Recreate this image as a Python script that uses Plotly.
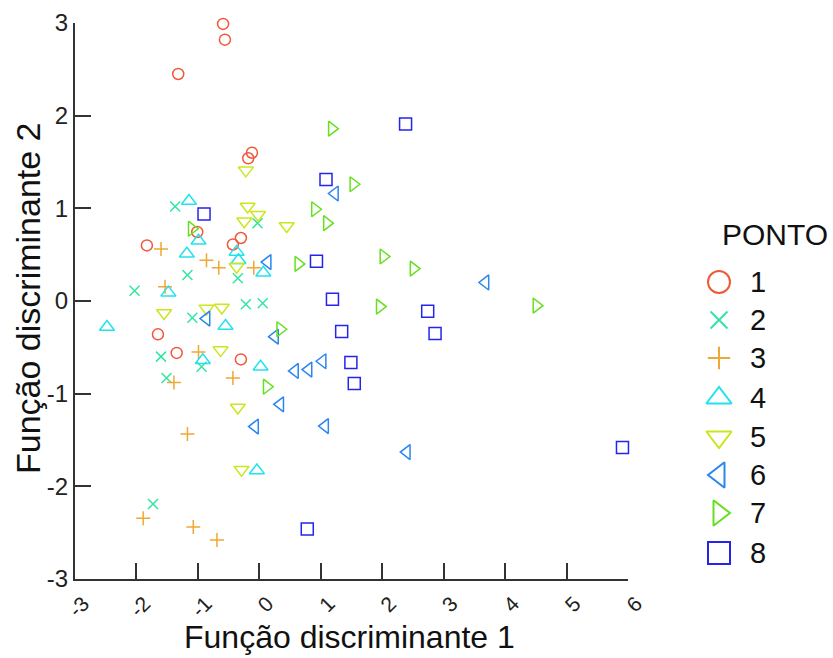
import plotly.graph_objects as go

# ---- data ----
groups = ["1", "2", "3", "4", "5", "6", "7", "8"]

g1_x = [-0.59, -0.56, -1.32, -0.18, -0.12, -1.83, -1.01, -0.43, -0.30, -1.65, -1.345, -0.30]
g1_y = [2.99, 2.82, 2.45, 1.54, 1.60, 0.60, 0.745, 0.61, 0.68, -0.36, -0.56, -0.63]

g2_x = [-1.37, -0.03, -1.17, -2.03, -0.35, -0.22, 0.055, -1.09, -1.60, -0.94, -1.51, -1.73]
g2_y = [1.02, 0.84, 0.28, 0.11, 0.245, -0.035, -0.025, -0.18, -0.60, -0.71, -0.83, -2.19]

g3_x = [-1.60, -0.86, -0.66, -0.09, -1.535, -0.99, -1.39, -0.43, -1.17, -1.89, -1.075, -0.69]
g3_y = [0.56, 0.44, 0.36, 0.36, 0.155, -0.55, -0.88, -0.83, -1.435, -2.345, -2.44, -2.58]

g4_x = [-1.145, -0.99, -1.18, -0.37, -0.34, 0.065, -1.48, -2.48, -0.55, -0.92, 0.02, -0.04]
g4_y = [1.08, 0.65, 0.51, 0.53, 0.44, 0.305, 0.09, -0.28, -0.27, -0.64, -0.71, -1.83]

g5_x = [-0.22, -0.19, -0.245, -0.02, 0.445, -0.37, -1.55, -0.86, -0.61, -0.63, -0.35, -0.29]
g5_y = [1.41, 1.02, 0.86, 0.93, 0.81, 0.37, -0.13, -0.08, -0.07, -0.53, -1.15, -1.82]

g6_x = [1.23, 0.135, -0.86, 0.255, 0.58, 0.80, 1.03, 0.34, -0.07, 1.07, 2.40, 3.68]
g6_y = [1.16, 0.42, -0.19, -0.385, -0.755, -0.74, -0.65, -1.115, -1.355, -1.35, -1.63, 0.20]

g7_x = [1.18, 1.53, 0.905, 1.10, 0.635, 2.02, 2.51, 1.96, 4.51, 0.34, 0.12, -1.10]
g7_y = [1.86, 1.26, 0.99, 0.84, 0.40, 0.48, 0.35, -0.06, -0.05, -0.305, -0.925, 0.78]

g8_x = [2.38, 1.085, -0.90, 0.93, 1.19, 1.34, 1.49, 1.545, 2.74, 2.86, 5.91, 0.78]
g8_y = [1.91, 1.31, 0.94, 0.43, 0.02, -0.33, -0.665, -0.89, -0.11, -0.35, -1.58, -2.46]

xs = [g1_x, g2_x, g3_x, g4_x, g5_x, g6_x, g7_x, g8_x]
ys = [g1_y, g2_y, g3_y, g4_y, g5_y, g6_y, g7_y, g8_y]

x_ticks = [-3, -2, -1, 0, 1, 2, 3, 4, 5, 6]
y_ticks = [-3, -2, -1, 0, 1, 2, 3]

# ---- styles ----
colors = ["#F0583A", "#33E6A0", "#EEA833", "#22E2EE", "#CCE61E", "#2A86F0", "#66E01E", "#2424EE"]
symbols = ["circle-open", "x-thin-open", "cross-thin-open", "triangle-up-open",
           "triangle-down-open", "triangle-left-open", "triangle-right-open", "square-open"]
sizes = [11, 10, 10, 13, 13, 13, 13, 12]
leg_sizes = [22, 17, 16, 22, 22, 22, 22, 22]

W, H = 833, 658
L, R, T, B = 75, 0, 23, 79
paper_w = W - L - R
paper_h = H - T - B
axis_right_px = 628

fig = go.Figure()
for i, g in enumerate(groups):
    fig.add_trace(go.Scatter(
        x=xs[i], y=ys[i], mode="markers", name=g, showlegend=False,
        cliponaxis=False,
        marker=dict(symbol=symbols[i], size=sizes[i], color=colors[i],
                    line=dict(color=colors[i], width=1.5)),
    ))

# ---- legend drawn on a hidden helper axis (pixel-like coordinates) ----
leg_left_px = 700
leg_y_px = [282, 320, 358, 398, 437, 475, 513, 553]
leg_sym_x = 719 - leg_left_px
for i, g in enumerate(groups):
    fig.add_trace(go.Scatter(
        x=[leg_sym_x], y=[(T + paper_h) - leg_y_px[i]], mode="markers",
        xaxis="x2", yaxis="y2", showlegend=False, cliponaxis=False,
        marker=dict(symbol=symbols[i], size=leg_sizes[i], color=colors[i],
                    line=dict(color=colors[i], width=2)),
    ))
    fig.add_annotation(x=748 - leg_left_px, y=(T + paper_h) - leg_y_px[i],
                       xref="x2", yref="y2", text=g, showarrow=False,
                       xanchor="left", yanchor="middle",
                       font=dict(size=29, color="#111111"))
fig.add_annotation(x=775 - leg_left_px, y=(T + paper_h) - 234, xref="x2", yref="y2",
                   text="PONTO", showarrow=False, xanchor="center", yanchor="middle",
                   font=dict(size=30, color="#111111"))

axis_col = "#333333"
font_fam = "Liberation Sans, Arial, sans-serif"

fig.update_layout(
    width=W, height=H,
    margin=dict(l=L, r=R, t=T, b=B, pad=0, autoexpand=False),
    paper_bgcolor="white", plot_bgcolor="white",
    font=dict(family=font_fam, color="#222222"),
    showlegend=False,
    xaxis=dict(domain=[0, (axis_right_px - L) / paper_w], range=[-3, 6],
               tickvals=x_ticks, ticktext=[str(v) for v in x_ticks],
               tickangle=-45, tickfont=dict(size=21, color="#222222"),
               ticklabelshift=8, ticklabelstandoff=2,
               showgrid=False, zeroline=False, showline=True, linecolor=axis_col,
               linewidth=2, ticks="inside", ticklen=16, tickwidth=2, tickcolor=axis_col,
               anchor="y", automargin=False),
    yaxis=dict(domain=[0, 1], range=[-3, 3], tickvals=y_ticks,
               ticktext=[str(v) for v in y_ticks],
               tickfont=dict(size=24, color="#222222"),
               showgrid=False, zeroline=False, showline=True, linecolor=axis_col,
               linewidth=2, ticks="inside", ticklen=16, tickwidth=2, tickcolor=axis_col,
               anchor="x", automargin=False),
    xaxis2=dict(domain=[(leg_left_px - L) / paper_w, 1], range=[0, W - leg_left_px],
                visible=False, anchor="y2", automargin=False),
    yaxis2=dict(domain=[0, 1], range=[0, paper_h], visible=False, anchor="x2",
                automargin=False),
)

# axis titles
fig.add_annotation(x=(349 - L) / paper_w, y=(T + paper_h - 637) / paper_h,
                   xref="paper", yref="paper", text="Função discriminante 1",
                   showarrow=False, xanchor="center", yanchor="middle",
                   font=dict(size=32, color="#111111"))
fig.add_annotation(x=(28 - L) / paper_w, y=(T + paper_h - 298) / paper_h,
                   xref="paper", yref="paper", text="Função discriminante 2",
                   showarrow=False, xanchor="center", yanchor="middle", textangle=-90,
                   font=dict(size=34, color="#111111"))

fig.write_html(
    "out.html",
    config={"displayModeBar": False},
    post_script="document.body.style.margin='0';document.body.style.overflow='hidden';",
)
